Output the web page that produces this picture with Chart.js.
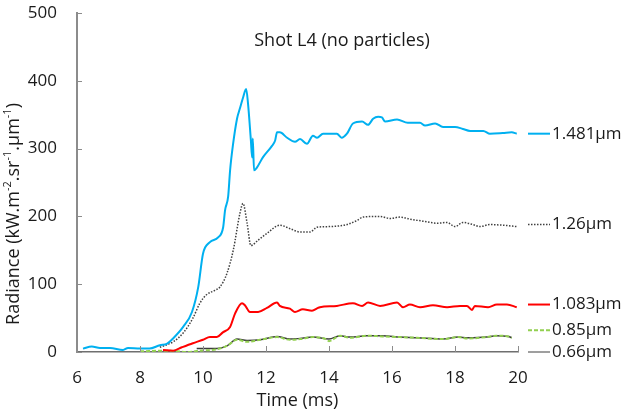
<!DOCTYPE html>
<html>
<head>
<meta charset="utf-8">
<script src="https://cdn.jsdelivr.net/npm/chart.js@4.4.0/dist/chart.umd.min.js"></script>
<style>
  body { margin: 0; background: #fff; }
  #wrap { width: 625px; height: 411px; }
</style>
</head>
<body>
<div id="wrap"><canvas id="c" width="625" height="411"></canvas></div>
<script>
Chart.defaults.font.family = "'Open Sans', sans-serif";

// series labels (wavelengths)
var seriesNames = ['1.481µm', '1.26µm', '1.083µm', '0.85µm', '0.66µm'];
// where each name sits on the right, in radiance units
var nameAt = [322, 188, 70, 32, 0];

var t1481 = [6.19,6.47,6.73,7.05,7.46,7.62,8.0,8.3,8.63,8.85,9.05,9.37,9.65,9.85,10.0,10.22,10.48,10.64,10.7,10.8,10.86,10.95,11.08,11.17,11.27,11.37,11.43,11.52,11.56,11.58,11.62,11.71,11.9,12.19,12.29,12.35,12.44,12.67,12.92,13.08,13.3,13.49,13.62,13.81,14.25,14.4,14.57,14.76,15.05,15.24,15.4,15.56,15.68,15.78,16.16,16.5,16.89,17.05,17.37,17.62,18.0,18.25,18.48,18.9,19.11,19.52,19.8,19.96];
var r1481 = [5,8,6,6,3,6,5,5,10,12,20,37,59,96,145,162,169,184,209,230,268,305,344,359,375,388,366,312,287,315,268,272,287,304,312,324,324,316,310,314,307,319,316,322,322,316,322,337,340,335,344,347,346,340,343,338,338,334,337,332,332,329,326,326,322,323,324,322];

var t126 = [8.63,9.05,9.37,9.68,9.9,10.1,10.38,10.54,10.76,10.96,11.17,11.27,11.4,11.52,11.75,12.03,12.44,12.76,13.08,13.4,13.62,14.03,14.57,14.89,15.08,15.62,15.94,16.25,16.57,16.98,17.43,17.75,18.0,18.25,18.57,18.79,19.11,19.52,19.96];
var r126 = [7,15,28,50,72,84,91,96,116,150,204,219,190,157,165,175,187,182,177,177,184,185,188,194,199,200,197,199,196,193,190,191,185,191,188,185,188,187,185];

var t1083 = [8.73,9.05,9.33,9.68,10.0,10.22,10.44,10.63,10.86,11.02,11.24,11.33,11.49,11.75,12.03,12.35,12.44,12.76,12.92,13.17,13.46,13.65,13.71,14.25,14.76,15.05,15.24,15.62,16.16,16.35,16.57,16.89,17.3,17.75,18.16,18.38,18.54,18.63,19.05,19.33,19.65,19.96];
var r1083 = [3,2,7,13,18,22,22,29,37,57,72,69,59,59,65,73,68,64,59,63,61,65,66,68,72,68,73,68,73,66,70,66,69,66,68,68,62,68,66,70,70,66];

var t085 = [8.0,8.85,9.5,9.9,10.44,10.76,11.08,11.4,11.81,12.35,12.76,13.08,13.49,13.9,14.0,14.35,14.67,15.2,15.7,16.25,16.8,17.62,18.1,18.4,19.0,19.3,19.7,19.8];
var r085 = [1,2,0,2,4,9,18,15,18,22,18,19,22,19,16,24,21,24,23,22,21,19,22,20,22,24,23,21];

var t066 = [9.8,10.44,10.76,11.08,11.4,11.81,12.35,12.76,13.08,13.49,14.0,14.35,14.67,15.2,15.7,16.25,16.8,17.62,18.1,18.4,19.0,19.3,19.7,19.8];
var r066 = [5,5,9,19,17,18,23,19,20,22,19,24,22,24,24,22,21,19,22,21,22,24,23,21];

var xTicks = [6, 8, 10, 12, 14, 16, 18, 20];
var yTicks = [0, 100, 200, 300, 400, 500];

function pts(t, r) {
    var out = [];
    for (var i = 0; i < t.length; i++) out.push({x: t[i], y: r[i]});
    return out;
}

var axisGray = '#8c8c8c';
var textCol = '#1a1a1a';

var decor = {
    id: 'decor',
    afterDraw: function(chart) {
        var ctx = chart.ctx;
        var a = chart.chartArea;
        var xs = chart.scales.x, ys = chart.scales.y;
        ctx.save();
        // inward tick marks
        ctx.strokeStyle = axisGray;
        ctx.lineWidth = 1;
        xTicks.forEach(function(v) {
            var px = Math.round(xs.getPixelForValue(v)) + 0.5;
            ctx.beginPath(); ctx.moveTo(px, a.bottom); ctx.lineTo(px, a.bottom - 6); ctx.stroke();
        });
        yTicks.forEach(function(v) {
            var py = Math.round(ys.getPixelForValue(v)) + 0.5;
            ctx.beginPath(); ctx.moveTo(a.left, py); ctx.lineTo(a.left + 5, py); ctx.stroke();
        });

        // names at the right end of each series
        chart.data.datasets.forEach(function(ds, i) {
            var py = ys.getPixelForValue(nameAt[i]);
            ctx.strokeStyle = ds.sampleColor || ds.borderColor;
            ctx.lineWidth = ds.borderWidth;
            ctx.setLineDash(ds.borderDash || []);
            ctx.beginPath(); ctx.moveTo(a.right + 10, py); ctx.lineTo(a.right + 32, py); ctx.stroke();
            ctx.setLineDash([]);
            ctx.fillStyle = textCol;
            ctx.font = "17px 'Open Sans'";
            ctx.textAlign = 'left';
            ctx.textBaseline = 'middle';
            ctx.fillText(ds.label, a.right + 34, py);
        });

        // chart title inside plot
        ctx.fillStyle = textCol;
        ctx.font = "18px 'Open Sans'";
        ctx.textAlign = 'center';
        ctx.textBaseline = 'middle';
        ctx.fillText('Shot L4 (no particles)', 342, 41);

        // x axis title
        ctx.fillText('Time (ms)', (a.left + a.right) / 2, 401);

        // y axis title with superscripts
        var parts = [['Radiance (kW.m', 0], ['-2', 1], ['.sr', 0], ['-1', 1], ['.µm', 0], ['-1', 1], [')', 0]];
        var big = "18px 'Open Sans'", small = "11px 'Open Sans'";
        var w = 0;
        parts.forEach(function(p) { ctx.font = p[1] ? small : big; w += ctx.measureText(p[0]).width; });
        ctx.translate(14, 214);
        ctx.rotate(-Math.PI / 2);
        ctx.textAlign = 'left';
        var x0 = -w / 2;
        parts.forEach(function(p) {
            ctx.font = p[1] ? small : big;
            ctx.fillText(p[0], x0, p[1] ? -6 : 0);
            x0 += ctx.measureText(p[0]).width;
        });
        ctx.restore();
    }
};

new Chart(document.getElementById('c'), {
    type: 'line',
    data: {
        datasets: [{
            label: seriesNames[0],
            data: pts(t1481, r1481),
            borderColor: '#00b0f0',
            borderWidth: 2
        }, {
            label: seriesNames[1],
            data: pts(t126, r126),
            borderColor: '#404040',
            borderWidth: 1.5,
            borderDash: [1.5, 1.5]
        }, {
            label: seriesNames[2],
            data: pts(t1083, r1083),
            borderColor: '#ff0000',
            borderWidth: 2
        }, {
            label: seriesNames[3],
            data: pts(t085, r085),
            borderColor: '#92d050',
            borderWidth: 2,
            borderDash: [4, 2]
        }, {
            label: seriesNames[4],
            data: pts(t066, r066),
            borderColor: '#3d3d3d',
            sampleColor: '#7f7f7f',
            borderWidth: 1.5
        }]
    },
    options: {
        responsive: false,
        animation: false,
        devicePixelRatio: 1,
        layout: { padding: { left: 0, right: 107, top: 13, bottom: 0 } },
        elements: { point: { radius: 0 }, line: { cubicInterpolationMode: 'monotone' } },
        plugins: { legend: { display: false }, tooltip: { enabled: false } },
        scales: {
            x: {
                type: 'linear',
                min: 6, max: 20,
                afterFit: function(s) { s.height = 59; s.paddingLeft = 0; s.paddingRight = 0; },
                afterBuildTicks: function(s) { s.ticks = xTicks.map(function(v) { return {value: v}; }); },
                grid: { display: true, drawOnChartArea: false, drawTicks: false },
                border: { color: '#6f6f6f', width: 1.5 },
                ticks: { padding: 16, color: textCol, font: { size: 17 }, maxRotation: 0 }
            },
            y: {
                min: 0, max: 500,
                afterFit: function(s) { s.width = 77; s.paddingTop = 0; s.paddingBottom = 0; },
                afterBuildTicks: function(s) { s.ticks = yTicks.map(function(v) { return {value: v}; }); },
                grid: { display: true, drawOnChartArea: false, drawTicks: false },
                border: { color: axisGray, width: 2 },
                ticks: { padding: 20, color: textCol, font: { size: 17 } }
            }
        }
    },
    plugins: [decor]
});
</script>
</body>
</html>
